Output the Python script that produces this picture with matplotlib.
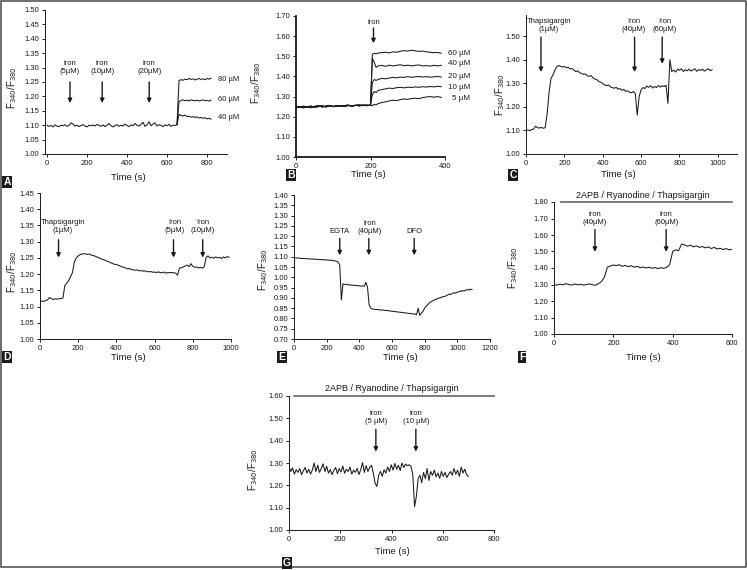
import numpy as np
import matplotlib
matplotlib.use('Agg')
import matplotlib.pyplot as plt
from matplotlib.patches import Rectangle

plt.rcParams['font.family'] = ['Liberation Sans', 'DejaVu Sans']

# ---- panel A : baseline then three concentrations ----
a_base = [1.100, 1.096, 1.099, 1.094, 1.101, 1.097, 1.095, 1.100, 1.098, 1.102,
          1.096, 1.099, 1.108, 1.104, 1.097, 1.100, 1.095, 1.099, 1.102, 1.097,
          1.094, 1.100, 1.098, 1.101, 1.097, 1.103, 1.099, 1.096, 1.101, 1.095,
          1.100, 1.106, 1.098, 1.094, 1.099, 1.102, 1.096, 1.100, 1.097, 1.104,
          1.099, 1.095, 1.101, 1.098, 1.106, 1.100, 1.097, 1.103, 1.110, 1.096,
          1.101, 1.112, 1.098, 1.104, 1.108, 1.097, 1.102, 1.099, 1.095, 1.101,
          1.098, 1.103, 1.096, 1.100, 1.099, 1.102]
a_80 = [1.255, 1.258, 1.256, 1.260, 1.258, 1.262, 1.259, 1.261, 1.257, 1.260,
        1.262, 1.259, 1.261, 1.258, 1.262, 1.260, 1.263]
a_60 = [1.182, 1.186, 1.188, 1.185, 1.187, 1.184, 1.188, 1.186, 1.185, 1.187,
        1.184, 1.186, 1.188, 1.185, 1.186, 1.184, 1.187]
a_40 = [1.138, 1.134, 1.132, 1.135, 1.130, 1.131, 1.128, 1.130, 1.127, 1.129,
        1.125, 1.127, 1.124, 1.126, 1.122, 1.124, 1.121]
a_arrows = [115, 276, 511]
a_arrow_text = ['iron\n(5µM)', 'iron\n(10µM)', 'iron\n(20µM)']
a_conc = ['80 µM', '60 µM', '40 µM']
a_conc_y = [1.260, 1.189, 1.128]

# ---- panel B : five concentrations ----
b_base1 = [1.250, 1.246, 1.252, 1.248, 1.245, 1.251, 1.254, 1.249, 1.252, 1.256,
           1.250, 1.253, 1.255, 1.251, 1.256, 1.253, 1.257, 1.254, 1.258, 1.255, 1.257]
b_base2 = [1.245, 1.250, 1.244, 1.249, 1.253, 1.247, 1.250, 1.255, 1.248, 1.254,
           1.251, 1.256, 1.252, 1.255, 1.258, 1.253, 1.256, 1.259, 1.255, 1.258, 1.256]
b_post_t = [205, 210, 215, 220, 230, 240, 250, 260, 270, 280, 290, 300, 310, 320,
            330, 340, 350, 360, 370, 380, 390]
b_60 = [1.510, 1.515, 1.512, 1.516, 1.518, 1.520, 1.517, 1.522, 1.520, 1.525, 1.528,
        1.526, 1.530, 1.527, 1.524, 1.526, 1.522, 1.520, 1.518, 1.519, 1.515]
b_40 = [1.490, 1.470, 1.445, 1.452, 1.455, 1.450, 1.456, 1.452, 1.455, 1.458, 1.453,
        1.456, 1.452, 1.455, 1.457, 1.452, 1.454, 1.451, 1.455, 1.452, 1.455]
b_20 = [1.370, 1.385, 1.380, 1.385, 1.390, 1.388, 1.392, 1.395, 1.393, 1.397, 1.395,
        1.399, 1.396, 1.398, 1.400, 1.397, 1.399, 1.396, 1.398, 1.400, 1.397]
b_10 = [1.310, 1.325, 1.320, 1.330, 1.335, 1.338, 1.342, 1.340, 1.344, 1.346, 1.343,
        1.347, 1.345, 1.348, 1.346, 1.349, 1.347, 1.350, 1.348, 1.351, 1.349]
b_5 = [1.255, 1.262, 1.258, 1.265, 1.270, 1.274, 1.278, 1.282, 1.280, 1.285, 1.288,
       1.286, 1.290, 1.292, 1.290, 1.295, 1.298, 1.300, 1.297, 1.300, 1.296]
b_conc = ['60 µM', '40 µM', '20 µM', '10 µM', '5 µM']
b_conc_y = [1.516, 1.465, 1.400, 1.345, 1.290]

# ---- panel C : thapsigargin then iron (10 s steps) ----
c_val = [1.100, 1.102, 1.099, 1.104, 1.106, 1.118, 1.112, 1.110, 1.113, 1.109,
         1.112, 1.170, 1.260, 1.320, 1.335, 1.355, 1.370, 1.376, 1.372, 1.369,
         1.372, 1.366, 1.368, 1.361, 1.363, 1.356, 1.350, 1.353, 1.345, 1.342,
         1.338, 1.340, 1.332, 1.330, 1.333, 1.322, 1.318, 1.315, 1.308, 1.305,
         1.298, 1.294, 1.290, 1.293, 1.285, 1.282, 1.279, 1.283, 1.275, 1.278,
         1.270, 1.274, 1.266, 1.268, 1.262, 1.260, 1.265, 1.256, 1.165, 1.245,
         1.272, 1.282, 1.278, 1.288, 1.283, 1.290, 1.280, 1.287, 1.282, 1.291,
         1.284, 1.290, 1.286, 1.292, 1.215, 1.400, 1.350, 1.356, 1.348, 1.360,
         1.355, 1.362, 1.350, 1.358, 1.353, 1.360, 1.352, 1.357, 1.362, 1.351,
         1.358, 1.355, 1.360, 1.352, 1.357, 1.362, 1.354, 1.358]

# ---- panel D (10 s steps) ----
d_val = [1.115, 1.117, 1.116, 1.119, 1.121, 1.128, 1.124, 1.122, 1.124, 1.123,
         1.124, 1.125, 1.126, 1.165, 1.172, 1.180, 1.192, 1.205, 1.238, 1.250,
         1.256, 1.260, 1.262, 1.263, 1.262, 1.261, 1.262, 1.258, 1.257, 1.255,
         1.252, 1.250, 1.247, 1.245, 1.243, 1.240, 1.238, 1.235, 1.233, 1.230,
         1.230, 1.227, 1.225, 1.222, 1.221, 1.218, 1.216, 1.217, 1.214, 1.213,
         1.212, 1.213, 1.210, 1.211, 1.209, 1.210, 1.208, 1.207, 1.208, 1.206,
         1.206, 1.205, 1.207, 1.204, 1.205, 1.206, 1.203, 1.205, 1.204, 1.205,
         1.204, 1.203, 1.197, 1.218, 1.220, 1.222, 1.225, 1.228, 1.223, 1.232,
         1.224, 1.221, 1.222, 1.219, 1.221, 1.218, 1.223, 1.252, 1.256, 1.250,
         1.252, 1.249, 1.253, 1.250, 1.252, 1.248, 1.253, 1.250, 1.254, 1.252]

# ---- panel E (10 s steps) ----
e_val = [1.095, 1.094, 1.093, 1.094, 1.092, 1.091, 1.092, 1.090, 1.091, 1.089,
         1.090, 1.088, 1.089, 1.087, 1.088, 1.086, 1.087, 1.085, 1.086, 1.084,
         1.085, 1.083, 1.084, 1.082, 1.081, 1.080, 1.078, 1.075, 1.060, 0.890,
         0.968, 0.965, 0.966, 0.963, 0.964, 0.961, 0.962, 0.960, 0.961, 0.958,
         0.959, 0.957, 0.958, 0.956, 0.975, 0.952, 0.865, 0.850, 0.846, 0.845,
         0.843, 0.844, 0.841, 0.842, 0.840, 0.841, 0.838, 0.839, 0.837, 0.836,
         0.835, 0.834, 0.833, 0.832, 0.831, 0.830, 0.829, 0.828, 0.827, 0.826,
         0.825, 0.824, 0.823, 0.822, 0.822, 0.818, 0.850, 0.815, 0.825, 0.835,
         0.850, 0.860, 0.868, 0.876, 0.882, 0.886, 0.890, 0.893, 0.897, 0.899,
         0.902, 0.906, 0.905, 0.910, 0.914, 0.918, 0.916, 0.922, 0.925, 0.923,
         0.928, 0.930, 0.932, 0.935, 0.933, 0.937, 0.940, 0.938, 0.942, 0.940]

# ---- panel F (10 s steps) ----
f_val = [1.300, 1.296, 1.302, 1.298, 1.305, 1.300, 1.296, 1.303, 1.298, 1.301,
         1.296, 1.300, 1.304, 1.298, 1.296, 1.305, 1.318, 1.345, 1.405, 1.412,
         1.418, 1.415, 1.420, 1.410, 1.416, 1.408, 1.414, 1.405, 1.410, 1.402,
         1.406, 1.400, 1.405, 1.398, 1.403, 1.396, 1.402, 1.398, 1.404, 1.420,
         1.500, 1.510, 1.505, 1.545, 1.540, 1.532, 1.538, 1.528, 1.534, 1.525,
         1.530, 1.522, 1.528, 1.518, 1.525, 1.515, 1.520, 1.512, 1.518, 1.510, 1.514]

# ---- panel G (7 s steps) ----
g_val = [1.285, 1.262, 1.278, 1.250, 1.270, 1.258, 1.275, 1.248, 1.265, 1.280,
         1.255, 1.272, 1.250, 1.268, 1.300, 1.262, 1.290, 1.258, 1.276, 1.296,
         1.262, 1.285, 1.255, 1.270, 1.248, 1.266, 1.280, 1.252, 1.275, 1.260,
         1.286, 1.254, 1.272, 1.262, 1.282, 1.250, 1.268, 1.258, 1.276, 1.248,
         1.270, 1.302, 1.258, 1.288, 1.262, 1.280, 1.290, 1.255, 1.210, 1.195,
         1.245, 1.262, 1.240, 1.270, 1.255, 1.282, 1.262, 1.292, 1.268, 1.298,
         1.272, 1.290, 1.266, 1.300, 1.280, 1.295, 1.288, 1.292, 1.285, 1.250,
         1.105, 1.150, 1.230, 1.245, 1.212, 1.258, 1.230, 1.275, 1.222, 1.262,
         1.245, 1.268, 1.238, 1.255, 1.232, 1.262, 1.240, 1.258, 1.235, 1.250,
         1.262, 1.245, 1.275, 1.250, 1.268, 1.240, 1.282, 1.255, 1.272, 1.248, 1.240]

W, H = 747, 570
fig = plt.figure(figsize=(W / 100, H / 100), dpi=100)
INK = '#1a1a1a'
YLAB = 'F$_{340}$/F$_{380}$'


def px_axes(l, t, r, b, lw=0.7):
    ax = fig.add_axes([l / W, 1 - b / H, (r - l) / W, (b - t) / H])
    ax.spines['top'].set_visible(False)
    ax.spines['right'].set_visible(False)
    for s in ('left', 'bottom'):
        ax.spines[s].set_linewidth(lw)
        ax.spines[s].set_color(INK)
    ax.tick_params(direction='out', length=2.5, width=0.7, labelsize=5.5,
                   pad=1.5, colors=INK)
    ax.patch.set_alpha(0)
    return ax


def arrow(ax, x, y0, y1):
    ax.annotate('', xy=(x, y1), xytext=(x, y0),
                arrowprops=dict(arrowstyle='-|>', lw=1.0, color=INK,
                                mutation_scale=6, shrinkA=0, shrinkB=0))


def note(ax, x, y, s):
    ax.text(x, y, s, ha='center', va='bottom', fontsize=5.5,
            linespacing=1.15, color=INK)


def fig_text(x, y, s, **kw):
    fig.text(x / W, 1 - y / H, s, ha='center', va='center', color=INK, **kw)


def letter(x, y, s):
    fig.text(x / W, 1 - y / H, s, ha='center', va='center', color='white',
             fontsize=7.5, fontweight='bold',
             bbox=dict(boxstyle='square,pad=0.12', fc='#1c1c1c', ec='none'))


def trace(ax, t, v, lw=0.75):
    ax.plot(t, v, color=INK, lw=lw)


# ---------- A ----------
ax = px_axes(45, 10, 227, 154)
t_base = np.arange(len(a_base)) * 10
t_post = [t_base[-1]] + list(660 + np.arange(len(a_80)) * 10)
trace(ax, t_base, a_base)
for ser in (a_80, a_60, a_40):
    trace(ax, t_post, [a_base[-1]] + ser)
for x, s in zip(a_arrows, a_arrow_text):
    arrow(ax, x, 1.250, 1.177)
    note(ax, x, 1.274, s)
for s, y in zip(a_conc, a_conc_y):
    ax.text(855, y, s, ha='left', va='center', fontsize=5.5, color=INK)
ax.set_xlim(-10, 900)
ax.set_ylim(1.0, 1.5)
ax.set_xticks(range(0, 801, 200))
ax.set_yticks(np.arange(1.0, 1.501, 0.05))
ax.yaxis.set_major_formatter('{x:.2f}')
fig_text(128, 177, 'Time (s)', fontsize=6.8)
fig_text(12, 88, YLAB, fontsize=7, rotation=90)
letter(7, 182, 'A')

# ---------- B ----------
ax = px_axes(296, 16, 445, 157, lw=1.3)
tb = np.arange(len(b_base1)) * 10
for base, ser in ((b_base1, b_60), (b_base2, b_40), (b_base1, b_20),
                  (b_base2, b_10), (b_base1, b_5)):
    trace(ax, list(tb) + b_post_t, base + ser)
arrow(ax, 208, 1.640, 1.565)
note(ax, 208, 1.652, 'iron')
for s, y in zip(b_conc, b_conc_y):
    ax.text(467, y, s, ha='right', va='center', fontsize=5.8, color=INK,
            clip_on=False)
ax.set_xlim(0, 400)
ax.set_ylim(1.0, 1.7)
ax.set_xticks([0, 200, 400])
ax.set_yticks(np.arange(1.0, 1.701, 0.1))
ax.yaxis.set_major_formatter('{x:.2f}')
fig_text(368, 174, 'Time (s)', fontsize=6.8)
fig_text(256, 83, YLAB, fontsize=7, rotation=90)
letter(291, 175, 'B')

# ---------- C ----------
ax = px_axes(526, 15, 737, 154)
trace(ax, np.arange(len(c_val)) * 10, c_val)
arrow(ax, 78, 1.496, 1.348)
note(ax, 119, 1.514, 'Thapsigargin\n(1µM)')
arrow(ax, 566, 1.496, 1.348)
note(ax, 561, 1.514, 'Iron\n(40µM)')
arrow(ax, 710, 1.496, 1.383)
note(ax, 723, 1.514, 'Iron\n(60µM)')
ax.set_xlim(0, 1100)
ax.set_ylim(1.0, 1.59)
ax.set_xticks(range(0, 1001, 200))
ax.set_yticks(np.arange(1.0, 1.501, 0.1))
ax.yaxis.set_major_formatter('{x:.2f}')
fig_text(618, 174, 'Time (s)', fontsize=6.8)
fig_text(500, 95, YLAB, fontsize=7, rotation=90)
letter(513, 175, 'C')

# ---------- D ----------
ax = px_axes(40, 193, 231, 339)
trace(ax, np.arange(len(d_val)) * 10, d_val)
arrow(ax, 97, 1.306, 1.251)
note(ax, 120, 1.325, 'Thapsigargin\n(1µM)')
arrow(ax, 699, 1.306, 1.251)
note(ax, 704, 1.325, 'Iron\n(5µM)')
arrow(ax, 852, 1.306, 1.251)
note(ax, 854, 1.325, 'Iron\n(10µM)')
ax.set_xlim(0, 1000)
ax.set_ylim(1.0, 1.45)
ax.set_xticks(range(0, 1001, 200))
ax.set_yticks(np.arange(1.0, 1.451, 0.05))
ax.yaxis.set_major_formatter('{x:.2f}')
fig_text(128, 358, 'Time (s)', fontsize=6.8)
fig_text(12, 272, YLAB, fontsize=7, rotation=90)
letter(7, 357, 'D')

# ---------- E ----------
ax = px_axes(294, 195, 490, 339)
trace(ax, np.arange(len(e_val)) * 10, e_val)
arrow(ax, 280, 1.189, 1.107)
note(ax, 280, 1.207, 'EGTA')
arrow(ax, 458, 1.189, 1.107)
note(ax, 464, 1.207, 'iron\n(40µM)')
arrow(ax, 736, 1.189, 1.107)
note(ax, 736, 1.207, 'DFO')
ax.set_xlim(0, 1200)
ax.set_ylim(0.70, 1.40)
ax.set_xticks(range(0, 1201, 200))
ax.set_yticks(np.arange(0.70, 1.401, 0.05))
ax.yaxis.set_major_formatter('{x:.2f}')
fig_text(400, 358, 'Time (s)', fontsize=6.8)
fig_text(263, 270, YLAB, fontsize=7, rotation=90)
letter(282, 357, 'E')

# ---------- F ----------
ax = px_axes(554, 202, 732, 334)
trace(ax, np.arange(len(f_val)) * 10, f_val)
ax.plot([24, 600], [1.80, 1.80], color='#666666', lw=1.2, clip_on=False)
ax.text(300, 1.812, '2APB / Ryanodine / Thapsigargin', ha='center',
        va='bottom', fontsize=6.5, color=INK)
arrow(ax, 138, 1.633, 1.498)
note(ax, 138, 1.655, 'iron\n(40µM)')
arrow(ax, 378, 1.633, 1.498)
note(ax, 378, 1.655, 'iron\n(60µM)')
ax.set_xlim(0, 600)
ax.set_ylim(1.0, 1.8)
ax.set_xticks(range(0, 601, 200))
ax.set_yticks(np.arange(1.0, 1.801, 0.1))
ax.yaxis.set_major_formatter('{x:.2f}')
fig_text(643, 358, 'Time (s)', fontsize=6.8)
fig_text(513, 268, YLAB, fontsize=7, rotation=90)
letter(522, 357, 'F')

# ---------- G ----------
ax = px_axes(289, 396, 494, 530)
trace(ax, np.arange(len(g_val)) * 7, g_val)
ax.plot([20, 800], [1.60, 1.60], color='#666666', lw=1.2, clip_on=False)
ax.text(402, 1.612, '2APB / Ryanodine / Thapsigargin', ha='center',
        va='bottom', fontsize=6.5, color=INK)
arrow(ax, 339, 1.451, 1.351)
note(ax, 339, 1.470, 'iron\n(5 µM)')
arrow(ax, 495, 1.451, 1.351)
note(ax, 495, 1.470, 'iron\n(10 µM)')
ax.set_xlim(0, 800)
ax.set_ylim(1.0, 1.6)
ax.set_xticks(range(0, 801, 200))
ax.set_yticks(np.arange(1.0, 1.601, 0.1))
ax.yaxis.set_major_formatter('{x:.2f}')
fig_text(392, 552, 'Time (s)', fontsize=6.8)
fig_text(253, 470, YLAB, fontsize=7, rotation=90)
letter(287, 563, 'G')

# outer frame
fig.patches.append(Rectangle((0.5 / W, 1 - 567 / H), 745.5 / W, 566.5 / H,
                             transform=fig.transFigure, fill=False,
                             ec='#555555', lw=1.2))

fig.savefig('out.png', dpi=100)
